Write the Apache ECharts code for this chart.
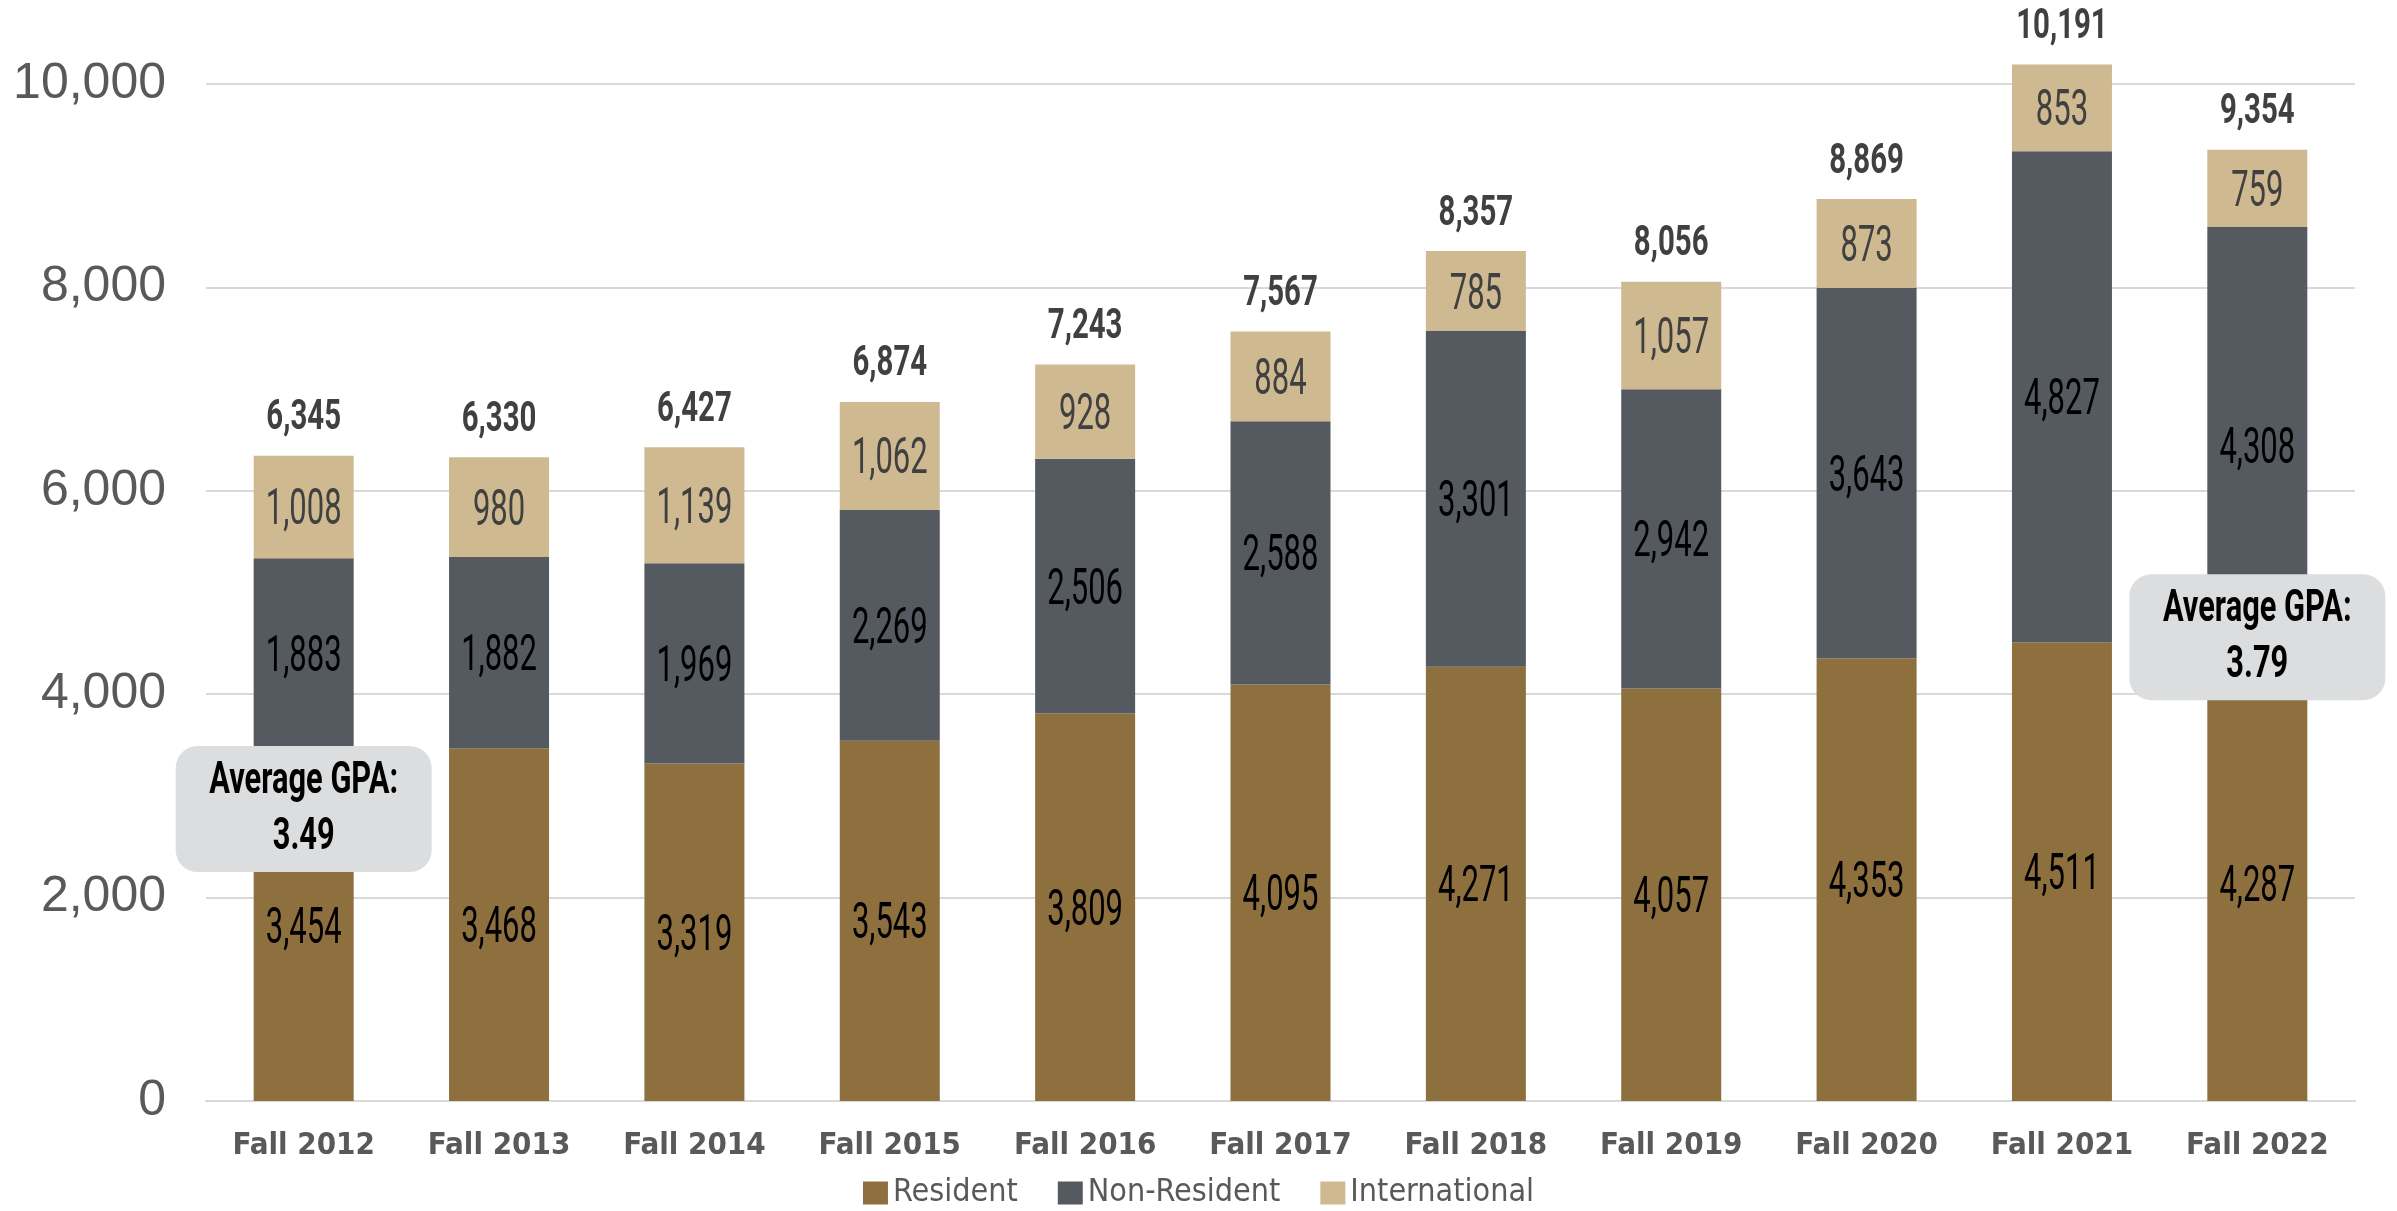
<!DOCTYPE html>
<html>
<head>
<meta charset="utf-8">
<script src="https://cdn.jsdelivr.net/npm/echarts@6/dist/echarts.min.js"></script>
<style>
html,body{margin:0;padding:0;background:#fff;}
#chart{width:2397px;height:1211px;}
</style>
</head>
<body>
<div id="chart"></div>
<script>
const categories = ['Fall 2012','Fall 2013','Fall 2014','Fall 2015','Fall 2016','Fall 2017','Fall 2018','Fall 2019','Fall 2020','Fall 2021','Fall 2022'];
const resident = [3454,3468,3319,3543,3809,4095,4271,4057,4353,4511,4287];
const nonResident = [1883,1882,1969,2269,2506,2588,3301,2942,3643,4827,4308];
const international = [1008,980,1139,1062,928,884,785,1057,873,853,759];
const totals = [6345,6330,6427,6874,7243,7567,8357,8056,8869,10191,9354];
const yTicks = [0,2000,4000,6000,8000,10000];
const gpaNotes = [
  {category:'Fall 2012', value:2870, gpa:'3.49'},
  {category:'Fall 2022', value:4560, gpa:'3.79'}
];

const COND = "'DejaVu Sans Condensed','DejaVu Sans',sans-serif";
const fmt = v => Number(v).toLocaleString('en-US');
const segColors = ['#000000','#000000','#404040'];

// label anchor data derived from the arrays: [categoryIndex, stackMid, value, kind]
const segLabelData = [];
categories.forEach((c,i)=>{
  let base = 0;
  [resident, nonResident, international].forEach((arr,k)=>{
    segLabelData.push([i, base + arr[i]/2, arr[i], k]);
    base += arr[i];
  });
});
const totalLabelData = categories.map((c,i)=>[i, totals[i]]);
const gpaData = gpaNotes.map(n=>[categories.indexOf(n.category), n.value, n.gpa]);

const chart = echarts.init(document.getElementById('chart'), null, {renderer:'canvas'});

const option = {
  backgroundColor:'#ffffff',
  animation:false,
  grid:{left:206, right:42, top:84, bottom:110, containLabel:false},
  legend:{
    data:['Resident','Non-Resident','International'],
    top:1172, left:'center',
    icon:'rect', itemWidth:25, itemHeight:23, itemGap:40,
    textStyle:{fontFamily:COND, fontSize:32, color:'#595959'}
  },
  xAxis:{
    type:'category', data:categories,
    axisLine:{show:true, lineStyle:{color:'#D9D9D9', width:2}},
    axisTick:{show:false},
    axisLabel:{interval:0, fontFamily:COND, fontWeight:'bold', fontSize:31, color:'#595959', margin:29}
  },
  yAxis:{
    type:'value', min:yTicks[0], max:yTicks[yTicks.length-1], interval:2000,
    axisLine:{show:false}, axisTick:{show:false},
    splitLine:{lineStyle:{color:'#D9D9D9', width:2}},
    axisLabel:{fontFamily:"'Liberation Sans','Helvetica',sans-serif", fontSize:50, color:'#595959', margin:40}
  },
  series:[
    {name:'Resident', type:'bar', stack:'s', barWidth:100, clip:false,
     itemStyle:{color:'#8E6F3E'}, data:resident},
    {name:'Non-Resident', type:'bar', stack:'s', barWidth:100, clip:false,
     itemStyle:{color:'#555960'}, data:nonResident},
    {name:'International', type:'bar', stack:'s', barWidth:100, clip:false,
     itemStyle:{color:'#CFB991'}, data:international},
    {name:'SegmentLabels', type:'custom', z:5, silent:true, clip:false,
     data:segLabelData,
     renderItem:(params, api)=>{
       const p = api.coord([api.value(0), api.value(1)]);
       return {type:'text', x:p[0], y:p[1]+5, scaleX:0.62,
         style:{text:fmt(api.value(2)), x:0, y:0, align:'center', verticalAlign:'middle',
                fontFamily:'Roboto', fontSize:50, fill:segColors[api.value(3)]}};
     }},
    {name:'TotalLabels', type:'custom', z:5, silent:true, clip:false,
     data:totalLabelData,
     renderItem:(params, api)=>{
       const p = api.coord([api.value(0), api.value(1)]);
       return {type:'text', x:p[0], y:p[1]-37, scaleX:0.7,
         style:{text:fmt(api.value(1)), x:0, y:0, align:'center', verticalAlign:'middle',
                fontFamily:'Roboto', fontWeight:'bold', fontSize:42, fill:'#404040'}};
     }},
    {name:'GPA', type:'custom', z:6, silent:true, clip:false,
     dimensions:['x','y','gpa'],
     data:gpaData,
     renderItem:(params, api)=>{
       const p = api.coord([api.value(0), api.value(1)]);
       const gpa = gpaData[params.dataIndex][2];
       return {type:'group', x:p[0], y:p[1], children:[
         {type:'rect', shape:{x:-128, y:-63, width:256, height:126, r:22}, style:{fill:'#DCDDDF'}},
         {type:'text', x:0, y:-27, scaleX:0.7,
          style:{text:'Average GPA:', x:0, y:0, align:'center', verticalAlign:'middle',
                 fontFamily:'Roboto', fontWeight:'bold', fontSize:44, fill:'#000'}},
         {type:'text', x:0, y:29, scaleX:0.7,
          style:{text:gpa, x:0, y:0, align:'center', verticalAlign:'middle',
                 fontFamily:'Roboto', fontWeight:'bold', fontSize:44, fill:'#000'}}
       ]};
     }}
  ]
};
chart.setOption(option);
</script>
</body>
</html>
